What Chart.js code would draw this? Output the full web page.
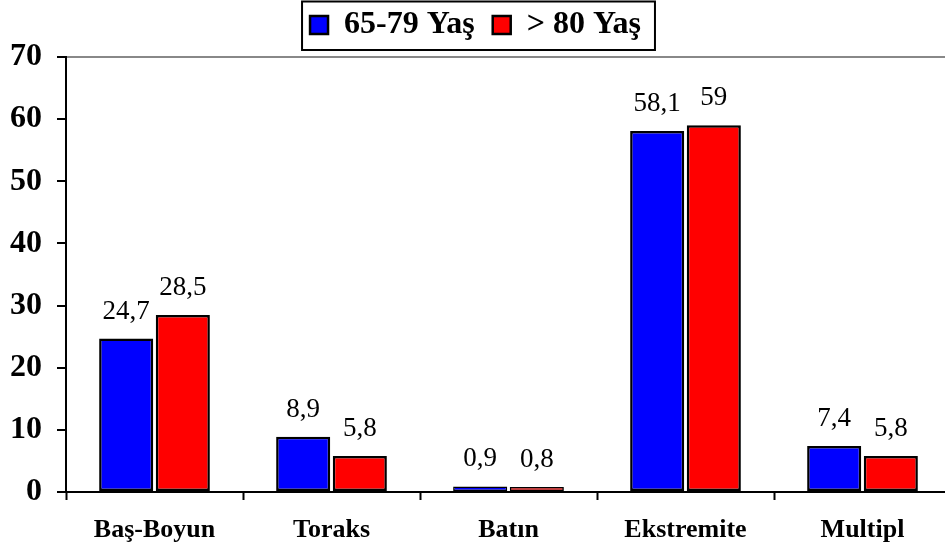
<!DOCTYPE html>
<html>
<head>
<meta charset="utf-8">
<script src="https://cdn.jsdelivr.net/npm/chart.js@4/dist/chart.umd.min.js"></script>
<style>
  html, body { margin: 0; padding: 0; background: #fff; overflow: hidden; }
  #wrap { width: 951px; height: 553px; }
</style>
</head>
<body>
<div id="wrap"><canvas id="viz" width="951" height="553"></canvas></div>
<script>
const CATEGORIES = ['Baş-Boyun', 'Toraks', 'Batın', 'Ekstremite', 'Multipl'];
const SERIES_NAMES = ['65-79 Yaş', '> 80 Yaş'];
const AGE_65_79 = [24.7, 8.9, 0.9, 58.1, 7.4];
const AGE_80 = [28.5, 5.8, 0.8, 59, 5.8];
const Y_TICKS = [0, 10, 20, 30, 40, 50, 60, 70];

const FONT = '"Liberation Serif", "Times New Roman", serif';

// thinner outline on the very short bars so their fill still shows
const outline = (c) => (c.raw !== undefined && c.raw < 2) ? 1.5 : 2.5;

// extra room under the legend + a frame around it
const legendBox = {
    id: 'legendBox',
    beforeInit(chart) {
        const fit = chart.legend.fit;
        chart.legend.fit = function () {
            fit.bind(chart.legend)();
            this.height = 66;
        };
    },
    afterDraw(chart) {
        const boxes = chart.legend.legendHitBoxes;
        if (!boxes || !boxes.length) return;
        const last = boxes[boxes.length - 1];
        const x1 = boxes[0].left - 8;
        const x2 = last.left + last.width + 14;
        const ctx = chart.ctx;
        ctx.save();
        ctx.strokeStyle = '#000';
        ctx.lineWidth = 2;
        ctx.strokeRect(x1, 1.5, x2 - x1, 48.5);
        ctx.restore();
    }
};

// value labels above the bars
const barValues = {
    id: 'barValues',
    afterDatasetsDraw(chart) {
        const ctx = chart.ctx;
        ctx.save();
        ctx.font = '27px ' + FONT;
        ctx.fillStyle = '#000';
        ctx.textAlign = 'center';
        ctx.textBaseline = 'alphabetic';
        chart.data.datasets.forEach((ds, i) => {
            chart.getDatasetMeta(i).data.forEach((bar, j) => {
                ctx.fillText(String(ds.data[j]).replace('.', ','), bar.x, bar.y - 20);
            });
        });
        ctx.restore();
    }
};

new Chart(document.getElementById('viz'), {
    type: 'bar',
    data: {
        labels: CATEGORIES,
        datasets: [{
            label: SERIES_NAMES[0],
            data: AGE_65_79,
            backgroundColor: '#0000FF',
            borderColor: '#000',
            borderWidth: outline,
            borderSkipped: false
        }, {
            label: SERIES_NAMES[1],
            data: AGE_80,
            backgroundColor: '#FF0000',
            borderColor: '#000',
            borderWidth: outline,
            borderSkipped: false
        }]
    },
    options: {
        responsive: false,
        animation: false,
        devicePixelRatio: 1,
        categoryPercentage: 0.64,
        barPercentage: 0.955,
        layout: { padding: { top: -9, left: 0, right: 0, bottom: 0 } },
        scales: {
            x: {
                afterFit: (scale) => { scale.height = 61; },
                grid: {
                    offset: true,
                    drawOnChartArea: false,
                    tickLength: 8,
                    tickColor: '#000',
                    tickWidth: 2
                },
                border: { color: '#000', width: 2 },
                ticks: {
                    color: '#000',
                    padding: 15,
                    font: { family: FONT, size: 26, weight: 'bold' }
                }
            },
            y: {
                min: 0,
                max: 70,
                afterFit: (scale) => { scale.width = 66; },
                afterBuildTicks: (scale) => { scale.ticks = Y_TICKS.map(v => ({ value: v })); },
                grid: {
                    color: (c) => (c.tick && c.tick.value === 70) ? '#888' : 'rgba(0,0,0,0)',
                    lineWidth: 2,
                    tickLength: 9,
                    tickColor: '#000',
                    tickWidth: 2
                },
                border: { color: '#000', width: 2 },
                ticks: {
                    color: '#000',
                    padding: 15,
                    font: { family: FONT, size: 32, weight: 'bold' }
                }
            }
        },
        plugins: {
            legend: {
                position: 'top',
                labels: {
                    boxWidth: 18,
                    boxHeight: 18,
                    padding: 18,
                    color: '#000',
                    font: { family: FONT, size: 32, weight: 'bold' }
                }
            },
            tooltip: { enabled: false }
        }
    },
    plugins: [legendBox, barValues]
});
</script>
</body>
</html>
